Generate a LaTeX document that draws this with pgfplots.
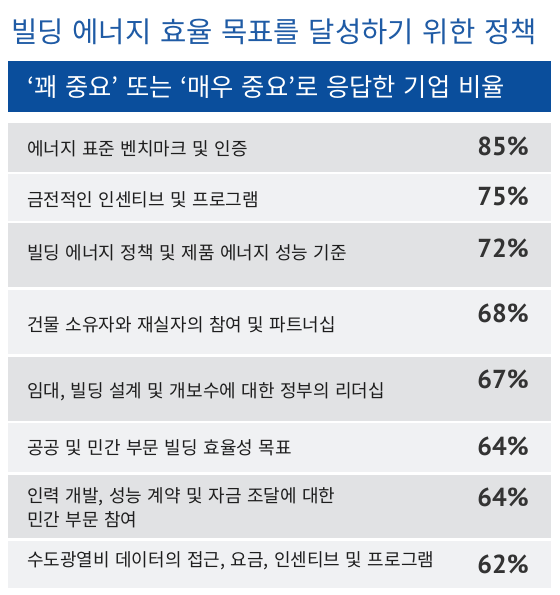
\documentclass[border=0pt]{standalone}
\usepackage{fontspec}
\usepackage{pgfplots}
\usepackage{pgfplotstable}
\pgfplotsset{compat=1.18}
\newfontfamily\kr{Noto Sans CJK KR}
\newfontfamily\krw[WordSpace=1.35]{Noto Sans CJK KR}
\newfontfamily\pct{PT Sans}
\definecolor{titleblue}{HTML}{1F5BA5}
\definecolor{bannerblue}{HTML}{0A4E9C}
\definecolor{rowA}{HTML}{E1E2E4}
\definecolor{rowB}{HTML}{F0F1F3}
\definecolor{pcttext}{HTML}{333333}
\definecolor{labtext}{HTML}{1E1E1E}

% percentages: baseline y (pixels from top), value
\pgfplotstableread[col sep=semicolon]{
y;val
155;85
205;75
257;72
322;68
388;67
455;64
506;64
573;62
}\pcts

% labels: baseline y, text
\pgfplotstableread[col sep=semicolon]{
y;label
155;{에너지 표준 벤치마크 및 인증}
206;{금전적인 인센티브 및 프로그램}
259;{빌딩 에너지 정책 및 제품 에너지 성능 기준}
331;{건물 소유자와 재실자의 참여 및 파트너십}
397;{임대, 빌딩 설계 및 개보수에 대한 정부의 리더십}
454;{공공 및 민간 부문 빌딩 효율성 목표}
502;{인력 개발, 성능 계약 및 자금 조달에 대한}
526;{민간 부문 참여}
566;{수도광열비 데이터의 접근, 요금, 인센티브 및 프로그램}
}\labels

\begin{document}
\begin{tikzpicture}
\begin{axis}[
  width=560pt, height=595pt, scale only axis,
  xmin=0, xmax=560, ymin=0, ymax=595, y dir=reverse,
  hide axis, clip=false]
\fill[white] (axis cs:0,0) rectangle (axis cs:560,595);
% title
\node[anchor=base west, inner sep=0pt, text=titleblue,
  font=\kr\fontsize{28.6}{32}\selectfont] at (axis cs:11,42)
  {빌딩 에너지 효율 목표를 달성하기 위한 정책};
% banner
\fill[bannerblue] (axis cs:8,61) rectangle (axis cs:551,112);
\node[anchor=base west, inner sep=0pt, text=white,
  font=\krw\fontsize{25.3}{30}\selectfont] at (axis cs:27,96.5)
  {‘꽤 중요’ 또는 ‘매우 중요’로 응답한 기업 비율};
% rows
\fill[rowA] (axis cs:8,123) rectangle (axis cs:551,172);
\fill[rowB] (axis cs:8,174) rectangle (axis cs:551,221);
\fill[rowA] (axis cs:8,223) rectangle (axis cs:551,287);
\fill[rowB] (axis cs:8,290) rectangle (axis cs:551,354);
\fill[rowA] (axis cs:8,357) rectangle (axis cs:551,421);
\fill[rowB] (axis cs:8,423) rectangle (axis cs:551,472);
\fill[rowA] (axis cs:8,475) rectangle (axis cs:551,538);
\fill[rowB] (axis cs:8,541) rectangle (axis cs:551,588);
% labels
\addplot[draw=none, mark=none, nodes near coords, point meta=explicit symbolic,
  every node near coord/.style={anchor=base west, inner sep=0pt, text=labtext,
    font=\krw\fontsize{18}{20}\selectfont}]
  table[x expr=27, y=y, meta=label] {\labels};
% percentages
\addplot[draw=none, mark=none, nodes near coords={\pgfplotspointmeta\%}, point meta=explicit symbolic,
  every node near coord/.style={anchor=base east, inner sep=0pt, text=pcttext,
    font=\pct\bfseries\fontsize{26}{28}\selectfont}]
  table[x expr=529, y=y, meta=val] {\pcts};
\end{axis}
\end{tikzpicture}
\end{document}
